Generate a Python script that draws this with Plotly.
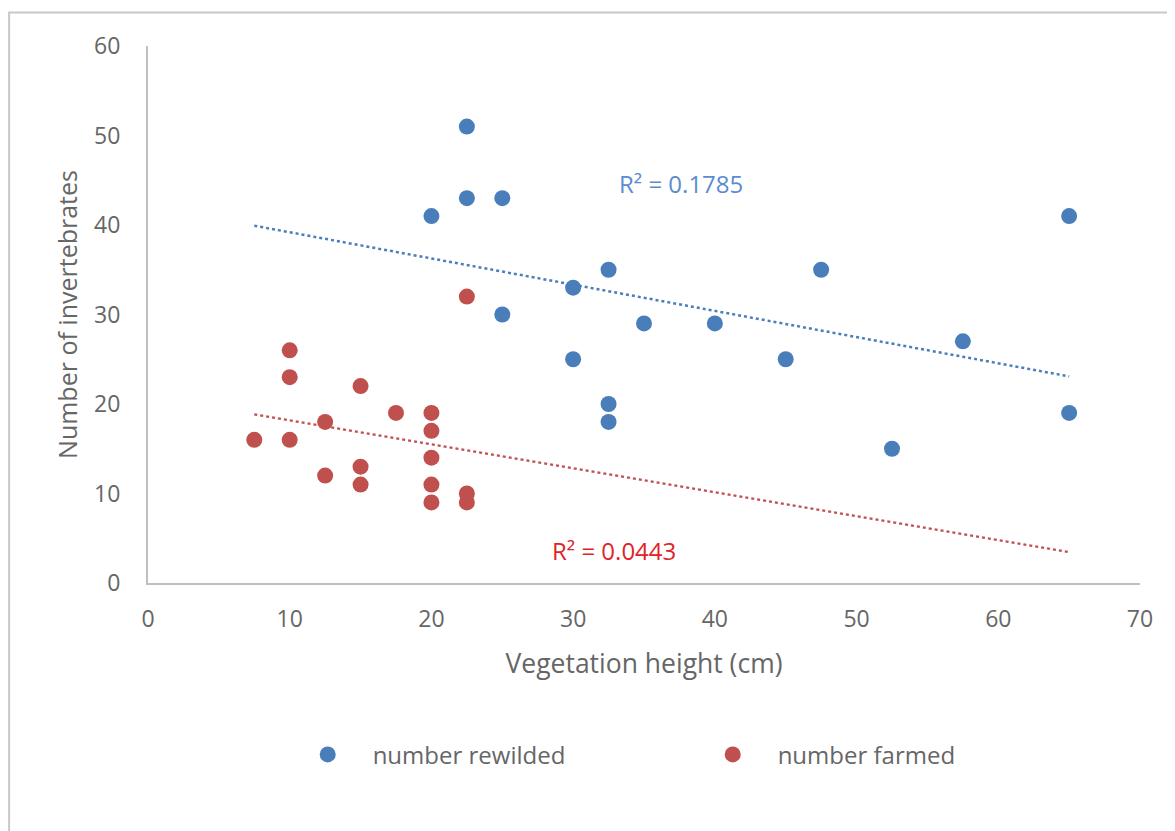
import numpy as np
import plotly.graph_objects as go

# Data
rewilded_height = [22.5, 20, 22.5, 25, 30, 32.5, 25, 30, 35, 40, 32.5, 32.5, 45, 47.5, 52.5, 57.5, 65, 65]
rewilded_count = [51, 41, 43, 43, 33, 35, 30, 25, 29, 29, 20, 18, 25, 35, 15, 27, 41, 19]

farmed_height = [7.5, 10, 10, 10, 12.5, 12.5, 15, 15, 15, 17.5, 20, 20, 20, 20, 20, 22.5, 22.5, 22.5]
farmed_count = [16, 26, 23, 16, 18, 12, 22, 13, 11, 19, 19, 17, 14, 11, 9, 32, 10, 9]

series_names = ["number rewilded", "number farmed"]
x_ticks = [0, 10, 20, 30, 40, 50, 60, 70]
y_ticks = [0, 10, 20, 30, 40, 50, 60]

BLUE = "#4a7ebb"
RED = "#c0504d"
GREY_TXT = "#666666"
FONT = "Open Sans"


def fit(x, y):
    x = np.asarray(x, float)
    y = np.asarray(y, float)
    slope, intercept = np.polyfit(x, y, 1)
    pred = slope * x + intercept
    r2 = 1 - np.sum((y - pred) ** 2) / np.sum((y - y.mean()) ** 2)
    return slope, intercept, r2


all_x = rewilded_height + farmed_height
x_lo, x_hi = min(all_x), max(all_x)

fig = go.Figure()

fig.add_trace(go.Scatter(
    x=rewilded_height, y=rewilded_count, mode="markers",
    name="\u00a0\u00a0\u00a0\u00a0" + series_names[0],
    marker=dict(color=BLUE, size=16, line=dict(width=0)),
))
fig.add_trace(go.Scatter(
    x=farmed_height, y=farmed_count, mode="markers",
    name="\u00a0\u00a0\u00a0\u00a0" + series_names[1],
    marker=dict(color=RED, size=16, line=dict(width=0)),
))

annots = []
for xs, ys, col, txtcol, pos in [
    (rewilded_height, rewilded_count, BLUE, "#5b8bd0", (37.6, 44.6)),
    (farmed_height, farmed_count, RED, "#e0232b", (32.9, 3.6)),
]:
    s, b, r2 = fit(xs, ys)
    fig.add_trace(go.Scatter(
        x=[x_lo, x_hi], y=[s * x_lo + b, s * x_hi + b], mode="lines",
        line=dict(color=col, width=2.5, dash="dot"),
        showlegend=False, hoverinfo="skip",
    ))
    annots.append(dict(
        x=pos[0], y=pos[1], xref="x", yref="y", showarrow=False,
        text=f"R² = {r2:.4f}", font=dict(family=FONT, size=24, color=txtcol),
    ))

fig.update_layout(
    width=1175, height=831,
    margin=dict(l=140, r=43, t=38, b=256),
    paper_bgcolor="white", plot_bgcolor="white",
    font=dict(family=FONT, color=GREY_TXT, size=24),
    annotations=annots,
    showlegend=True,
    legend=dict(
        orientation="h", x=0.161, xanchor="left", y=-0.32, yanchor="middle",
        font=dict(family=FONT, size=24, color=GREY_TXT),
        entrywidth=360, itemwidth=30, bgcolor="rgba(0,0,0,0)",
    ),
    shapes=[dict(
        type="rect", xref="paper", yref="paper",
        x0=-0.140, x1=1.2, y0=-0.7, y1=1.0624,
        line=dict(color="#c8c8c8", width=2), fillcolor="rgba(0,0,0,0)",
        layer="below",
    )],
)

fig.update_xaxes(
    range=[0, 70], tickvals=x_ticks, showgrid=False, zeroline=False,
    showline=True, linecolor="#bfbfbf", linewidth=2, ticks="",
    ticklabelstandoff=14,
    tickfont=dict(family=FONT, size=23, color=GREY_TXT),
    title=dict(text="Vegetation height (cm)", standoff=22,
               font=dict(family=FONT, size=26.5, color=GREY_TXT)),
)
fig.update_yaxes(
    range=[0, 60], tickvals=y_ticks, showgrid=False, zeroline=False,
    showline=True, linecolor="#bfbfbf", linewidth=2, ticks="",
    ticklabelstandoff=21,
    tickfont=dict(family=FONT, size=23, color=GREY_TXT),
    title=dict(text="Number of invertebrates", standoff=9,
               font=dict(family=FONT, size=25, color=GREY_TXT)),
)

fig.write_html("out.html")
